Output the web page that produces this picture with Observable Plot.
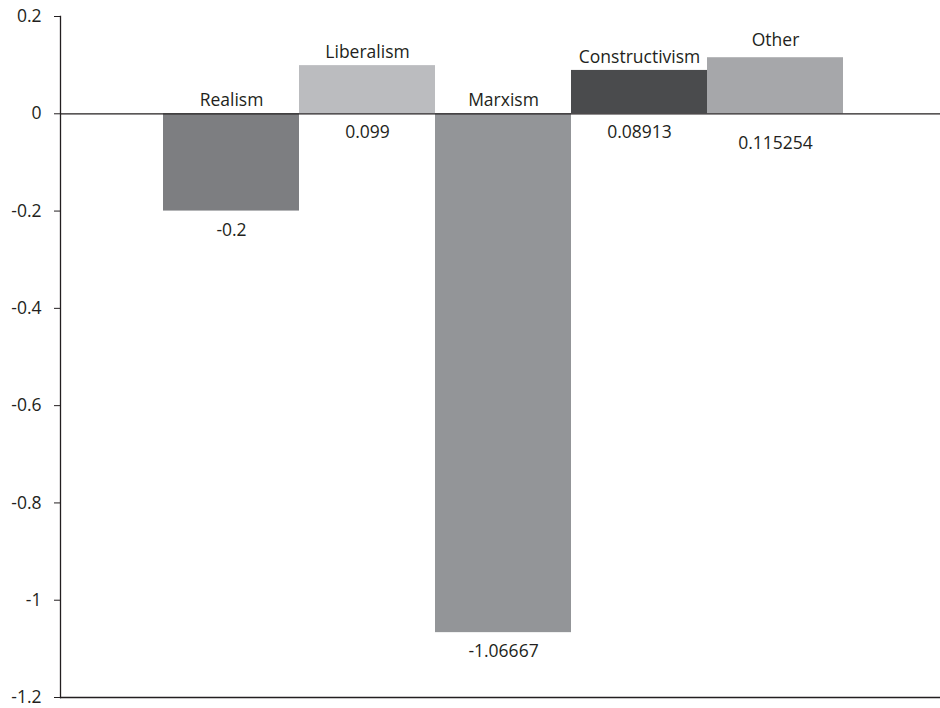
<!DOCTYPE html>
<html>
<head>
<meta charset="utf-8">
<script src="https://cdn.jsdelivr.net/npm/d3@7"></script>
<script src="https://cdn.jsdelivr.net/npm/@observablehq/plot@0.6"></script>
<style>
  html, body { margin: 0; padding: 0; background: #fff; }
  #chart svg { display: block; }
</style>
</head>
<body>
<div id="chart"></div>
<script>
const categories = ["Realism", "Liberalism", "Marxism", "Constructivism", "Other"];
const values = [-0.2, 0.099, -1.06667, 0.08913, 0.115254];
const valueLabels = ["-0.2", "0.099", "-1.06667", "0.08913", "0.115254"];
const colors = ["#7d7e81", "#bbbcbf", "#939598", "#4a4b4d", "#a6a7aa"];
const yTicks = [0.2, 0, -0.2, -0.4, -0.6, -0.8, -1, -1.2];

const data = categories.map((c, i) => ({cat: c, v: values[i], label: valueLabels[i]}));
const font = "'Open Sans', sans-serif";
const ink = "#231f20";
const fs = 17.5;

const chart = Plot.plot({
  width: 940,
  height: 708,
  marginTop: 16,
  marginBottom: 11,
  marginLeft: 60,
  marginRight: 0,
  style: {fontFamily: font, color: ink, background: "#fff"},
  x: {domain: categories, paddingInner: 0, paddingOuter: 0.721, align: 0.515, axis: null},
  y: {domain: [-1.2, 0.2], ticks: yTicks, tickFormat: d => String(+d.toFixed(1)), label: null},
  color: {domain: categories, range: colors},
  marks: [
    Plot.barY(data, {x: "cat", y: "v", fill: "cat"}),
    Plot.ruleY([0], {stroke: "#231f20", strokeWidth: 1.3}),
    Plot.ruleY([-1.2], {stroke: "#231f20", strokeWidth: 1.3}),
    Plot.frame({anchor: "left", stroke: "#231f20", strokeWidth: 1.3}),
    Plot.axisY({ticks: yTicks, tickFormat: d => String(+d.toFixed(1)), tickSize: 6, tickPadding: 13, fontSize: fs, label: null, stroke: "#231f20", fill: ink}),
    Plot.text(data.filter(d => d.cat !== "Other"), {x: "cat", y: d => Math.max(d.v, 0), text: "cat", dy: -13, fontSize: fs, fill: ink}),
    Plot.text(data.filter(d => d.cat === "Other"), {x: "cat", y: d => Math.max(d.v, 0), text: "cat", dy: -17, fontSize: fs, fill: ink}),
    Plot.text(data.filter(d => d.cat !== "Other"), {x: "cat", y: d => Math.min(d.v, 0), text: "label", dy: 19, fontSize: fs, fill: ink}),
    Plot.text(data.filter(d => d.cat === "Other"), {x: "cat", y: d => Math.min(d.v, 0), text: "label", dy: 30, fontSize: fs, fill: ink})
  ]
});
document.getElementById("chart").appendChild(chart);
</script>
</body>
</html>
